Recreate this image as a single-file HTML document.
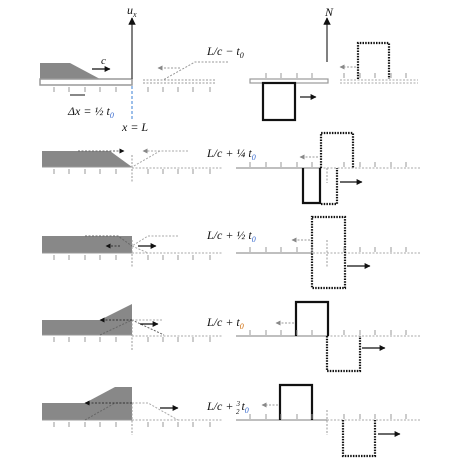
<!DOCTYPE html>
<html><head><meta charset="utf-8"><style>
body{margin:0;background:#fff;width:465px;height:469px;overflow:hidden}
svg{display:block}
text{font-family:"Liberation Serif",serif;font-style:italic;fill:#111}
</style></head><body>
<svg id="s" width="465" height="469" viewBox="0 0 465 469">
<defs>
<marker id="ah" markerWidth="5" markerHeight="5" refX="4.5" refY="2.5" orient="auto"><path d="M0,0 L5,2.5 L0,5 z" fill="#111"/></marker>
<marker id="ag" markerWidth="5" markerHeight="5" refX="4.5" refY="2.5" orient="auto"><path d="M0,0 L5,2.5 L0,5 z" fill="#888"/></marker>
</defs>

<g>
<polygon points="40,63 70,63 100,79 40,79" fill="#888"/>
<rect x="40" y="79" width="92" height="6" fill="#fff" stroke="#999" stroke-width="1.5"/>
<line x1="132" y1="79" x2="132" y2="18" stroke="#555" stroke-width="1.5" marker-end="url(#ah)"/>
<text x="127" y="14" font-size="12">u<tspan font-size="8" dy="3">x</tspan></text>
<line x1="92" y1="69" x2="110" y2="69" stroke="#111" stroke-width="1.2" marker-end="url(#ah)"/>
<text x="101" y="64" font-size="11">c</text>
<line x1="70" y1="95" x2="85" y2="95" stroke="#111" stroke-width="1"/>
<text x="68" y="115" font-size="12">Δx = ½ t<tspan font-size="8" dy="3" fill="#36c">0</tspan></text>
<line x1="132" y1="86" x2="132" y2="120" stroke="#3a7fd5" stroke-width="1" stroke-dasharray="3,2"/>
<text x="122" y="131" font-size="12">x = L</text>
<line x1="143" y1="80" x2="215" y2="80" stroke="#999" stroke-dasharray="2,1.5"/>
<line x1="143" y1="83" x2="215" y2="83" stroke="#999" stroke-dasharray="2,1.5"/>
<polyline points="228,62 195,62 163,80" fill="none" stroke="#999" stroke-dasharray="2,1.5"/>
<line x1="180" y1="68" x2="158" y2="68" stroke="#999" stroke-dasharray="2,1.5" marker-end="url(#ag)"/>
<text x="207" y="55" font-size="12">L/c − t<tspan font-size="8" dy="3">0</tspan></text>
<rect x="250" y="79" width="78" height="4" fill="#fff" stroke="#999" stroke-width="1.2"/>
<line x1="327" y1="62" x2="327" y2="18" stroke="#555" stroke-width="1.5" marker-end="url(#ah)"/>
<text x="325" y="16" font-size="12">N</text>
<rect x="263" y="83" width="32" height="37" fill="none" stroke="#111" stroke-width="2.2"/>
<line x1="300" y1="97" x2="316" y2="97" stroke="#111" stroke-width="1.2" marker-end="url(#ah)"/>
<line x1="340" y1="80" x2="418" y2="80" stroke="#aaa" stroke-dasharray="2,1.5"/>
<line x1="340" y1="83" x2="418" y2="83" stroke="#aaa" stroke-dasharray="2,1.5"/>
<polyline points="358,79 358,43 389,43 389,79" fill="none" stroke="#111" stroke-width="2.2" stroke-dasharray="1.5,1.2"/>
<line x1="356" y1="67" x2="340" y2="67" stroke="#999" stroke-dasharray="2,1.5" marker-end="url(#ag)"/>
</g>

<g>
<polygon points="42,151 110,151 132,167 42,167" fill="#888"/>
<line x1="42" y1="167" x2="132" y2="167" stroke="#999"/>
<line x1="132" y1="155" x2="132" y2="182" stroke="#999" stroke-dasharray="2,1.5"/>
<line x1="132" y1="168" x2="222" y2="168" stroke="#aaa" stroke-dasharray="2,1.5"/>
<line x1="78" y1="151" x2="124" y2="151" stroke="#666" stroke-dasharray="2,1.5" marker-end="url(#ah)"/>
<polyline points="188,151 160,151 132,167" fill="none" stroke="#aaa" stroke-dasharray="2,1.5"/>
<line x1="160" y1="151" x2="143" y2="151" stroke="#aaa" stroke-dasharray="2,1.5" marker-end="url(#ag)"/>
<text x="207" y="157" font-size="12">L/c + ¼ t<tspan font-size="8" dy="3" fill="#36c">0</tspan></text>
<line x1="236" y1="168" x2="420" y2="168" stroke="#aaa" stroke-dasharray="2,1.5"/>
<line x1="236" y1="168" x2="320" y2="168" stroke="#999" stroke-width="1.3"/>
<polyline points="303,168 303,203 320,203 320,168" fill="none" stroke="#111" stroke-width="2.2"/>
<polyline points="321,168 321,133 353,133 353,168" fill="none" stroke="#111" stroke-width="2.2" stroke-dasharray="1.5,1.2"/>
<polyline points="321,204 337,204 337,168" fill="none" stroke="#111" stroke-width="2.2" stroke-dasharray="1.5,1.2"/>
<line x1="327" y1="168" x2="327" y2="183" stroke="#999" stroke-dasharray="2,1.5"/>
<line x1="340" y1="182" x2="362" y2="182" stroke="#111" stroke-width="1.2" marker-end="url(#ah)"/>
<line x1="318" y1="157" x2="300" y2="157" stroke="#999" stroke-dasharray="2,1.5" marker-end="url(#ag)"/>
</g>

<g>
<rect x="42" y="236" width="90" height="17" fill="#888"/>
<line x1="42" y1="253" x2="132" y2="253" stroke="#999"/>
<line x1="132" y1="240" x2="132" y2="267" stroke="#999" stroke-dasharray="2,1.5"/>
<line x1="132" y1="253" x2="222" y2="253" stroke="#aaa" stroke-dasharray="2,1.5"/>
<polyline points="85,236 118,236 132,246" fill="none" stroke="#666" stroke-dasharray="2,1.5"/>
<line x1="120" y1="246" x2="106" y2="246" stroke="#333" stroke-dasharray="2,1.5" marker-end="url(#ah)"/>
<line x1="138" y1="246" x2="156" y2="246" stroke="#111" stroke-width="1.2" marker-end="url(#ah)"/>
<polyline points="178,236 148,236 132,246 148,253" fill="none" stroke="#aaa" stroke-dasharray="2,1.5"/>
<text x="207" y="239" font-size="12">L/c + ½ t<tspan font-size="8" dy="3" fill="#36c">0</tspan></text>
<line x1="236" y1="253" x2="420" y2="253" stroke="#aaa" stroke-dasharray="2,1.5"/>
<line x1="236" y1="253" x2="312" y2="253" stroke="#999" stroke-width="1.3"/>
<rect x="312" y="217" width="33" height="71" fill="none" stroke="#111" stroke-width="2.2" stroke-dasharray="1.5,1.2"/>
<line x1="327" y1="240" x2="327" y2="268" stroke="#999" stroke-dasharray="2,1.5"/>
<line x1="347" y1="266" x2="370" y2="266" stroke="#111" stroke-width="1.2" marker-end="url(#ah)"/>
<line x1="310" y1="240" x2="292" y2="240" stroke="#999" stroke-dasharray="2,1.5" marker-end="url(#ag)"/>
</g>

<g>
<polygon points="42,320 100,320 132,304 132,335 42,335" fill="#888"/>
<line x1="42" y1="335" x2="132" y2="335" stroke="#999"/>
<line x1="132" y1="320" x2="132" y2="350" stroke="#999" stroke-dasharray="2,1.5"/>
<line x1="132" y1="336" x2="222" y2="336" stroke="#aaa" stroke-dasharray="2,1.5"/>
<polyline points="100,335 132,320 164,335" fill="none" stroke="#666" stroke-dasharray="2,1.5"/>
<line x1="132" y1="320" x2="100" y2="320" stroke="#333" stroke-dasharray="2,1.5" marker-end="url(#ah)"/>
<line x1="132" y1="320" x2="162" y2="320" stroke="#aaa" stroke-dasharray="2,1.5"/>
<line x1="140" y1="324" x2="158" y2="324" stroke="#111" stroke-width="1.2" marker-end="url(#ah)"/>
<text x="207" y="326" font-size="12">L/c + t<tspan font-size="8" dy="3" fill="#c60">0</tspan></text>
<line x1="236" y1="336" x2="420" y2="336" stroke="#aaa" stroke-dasharray="2,1.5"/>
<line x1="236" y1="336" x2="328" y2="336" stroke="#999" stroke-width="1.3"/>
<polyline points="296,336 296,302 328,302 328,336" fill="none" stroke="#111" stroke-width="2.2"/>
<polyline points="327,336 327,371 360,371 360,336" fill="none" stroke="#111" stroke-width="2.2" stroke-dasharray="1.5,1.2"/>
<line x1="362" y1="348" x2="385" y2="348" stroke="#111" stroke-width="1.2" marker-end="url(#ah)"/>
<line x1="294" y1="323" x2="276" y2="323" stroke="#999" stroke-dasharray="2,1.5" marker-end="url(#ag)"/>
</g>

<g>
<polygon points="42,403 85,403 115,387 132,387 132,420 42,420" fill="#888"/>
<line x1="42" y1="420" x2="132" y2="420" stroke="#999"/>
<line x1="132" y1="403" x2="132" y2="435" stroke="#999" stroke-dasharray="2,1.5"/>
<line x1="132" y1="420" x2="222" y2="420" stroke="#aaa" stroke-dasharray="2,1.5"/>
<polyline points="85,420 115,403 132,403" fill="none" stroke="#666" stroke-dasharray="2,1.5"/>
<line x1="132" y1="403" x2="85" y2="403" stroke="#333" stroke-dasharray="2,1.5" marker-end="url(#ah)"/>
<polyline points="132,403 148,403 178,420" fill="none" stroke="#aaa" stroke-dasharray="2,1.5"/>
<line x1="160" y1="408" x2="178" y2="408" stroke="#111" stroke-width="1.2" marker-end="url(#ah)"/>
<text x="207" y="410" font-size="12">L/c + <tspan font-size="7" dy="-4">3</tspan><tspan font-size="7" dx="-4" dy="8">2</tspan><tspan dy="-4" dx="2">t</tspan><tspan font-size="8" dy="3" fill="#36c">0</tspan></text>
<line x1="236" y1="420" x2="420" y2="420" stroke="#aaa" stroke-dasharray="2,1.5"/>
<line x1="236" y1="420" x2="327" y2="420" stroke="#999" stroke-width="1.3"/>
<polyline points="280,420 280,385 312,385 312,420" fill="none" stroke="#111" stroke-width="2.2"/>
<polyline points="343,420 343,456 375,456 375,420" fill="none" stroke="#111" stroke-width="2.2" stroke-dasharray="1.5,1.2"/>
<line x1="327" y1="410" x2="327" y2="435" stroke="#999" stroke-dasharray="2,1.5"/>
<line x1="378" y1="434" x2="400" y2="434" stroke="#111" stroke-width="1.2" marker-end="url(#ah)"/>
<line x1="278" y1="405" x2="262" y2="405" stroke="#999" stroke-dasharray="2,1.5" marker-end="url(#ag)"/>
</g>
<g id="ticks"></g>
</svg>
<script>
const rowAxisY = [85, 167, 253, 335, 420];
const rightAxisY = [79, 168, 253, 336, 420];
const leftTicks = [54, 69, 85, 100, 116, 148, 163, 178, 193, 210];
const rightTicks = [250, 266, 281, 297, 312, 344, 360, 375, 391, 406];
const g = document.getElementById('ticks');
const NS = 'http://www.w3.org/2000/svg';
rowAxisY.forEach((y, r) => {
  leftTicks.forEach(x => {
    const l = document.createElementNS(NS, 'line');
    
    
    l.setAttribute('x1', x); l.setAttribute('x2', x);
    l.setAttribute('y1', y + 2); l.setAttribute('y2', y + 7);
    l.setAttribute('stroke', '#999');
    g.appendChild(l);
  });
  rightTicks.forEach(x => {
    if (r === 0 && x < 263) return;
    const l = document.createElementNS(NS, 'line');
    
    
    const y0 = rightAxisY[r];
    l.setAttribute('x1', x); l.setAttribute('x2', x);
    l.setAttribute('y1', y0 - 6); l.setAttribute('y2', y0 - 1);
    l.setAttribute('stroke', '#999');
    g.appendChild(l);
  });
});
</script>
</body></html>
